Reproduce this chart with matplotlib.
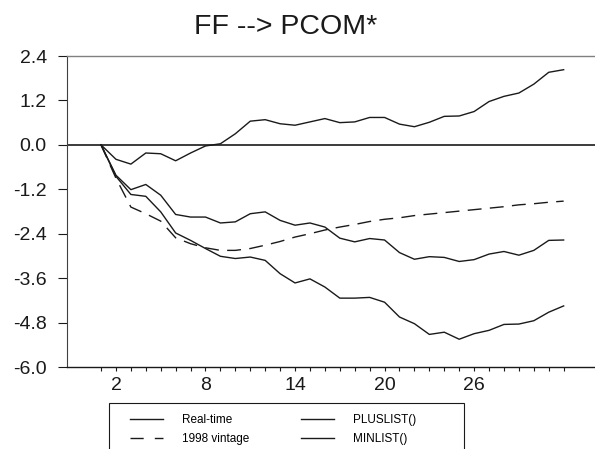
import matplotlib
matplotlib.use("Agg")
import matplotlib.pyplot as plt
from matplotlib.lines import Line2D
from matplotlib.patches import Rectangle

plt.rcParams['font.family'] = ['Liberation Sans', 'DejaVu Sans']

# Horizon (periods) and impulse responses
horizon = list(range(1, 33))

real_time = [0.00, -0.82, -1.21, -1.07, -1.36, -1.88, -1.95, -1.95, -2.11, -2.08,
             -1.86, -1.81, -2.04, -2.17, -2.11, -2.22, -2.52, -2.62, -2.53, -2.57,
             -2.91, -3.09, -3.02, -3.04, -3.15, -3.10, -2.95, -2.88, -2.98, -2.85,
             -2.58, -2.57]

vintage_1998 = [0.00, -0.90, -1.68, -1.86, -2.06, -2.51, -2.67, -2.78, -2.85, -2.85,
                -2.80, -2.71, -2.61, -2.49, -2.40, -2.30, -2.22, -2.15, -2.07, -2.01,
                -1.97, -1.91, -1.87, -1.83, -1.79, -1.75, -1.71, -1.67, -1.62, -1.59,
                -1.55, -1.52]

plus_list = [0.00, -0.39, -0.52, -0.22, -0.24, -0.43, -0.22, -0.03, 0.03, 0.30,
             0.64, 0.68, 0.57, 0.53, 0.62, 0.71, 0.60, 0.62, 0.74, 0.74,
             0.56, 0.49, 0.61, 0.77, 0.78, 0.90, 1.17, 1.31, 1.40, 1.64,
             1.96, 2.03]

min_list = [0.00, -0.85, -1.34, -1.39, -1.81, -2.38, -2.58, -2.80, -3.01, -3.07,
            -3.03, -3.12, -3.48, -3.73, -3.62, -3.84, -4.14, -4.14, -4.12, -4.25,
            -4.65, -4.83, -5.12, -5.06, -5.25, -5.10, -5.01, -4.85, -4.84, -4.75,
            -4.52, -4.35]

y_ticks = [2.4, 1.2, 0.0, -1.2, -2.4, -3.6, -4.8, -6.0]
x_labeled = [2, 8, 14, 20, 26]

ink = '#1a1a1a'
W, H = 595, 449

fig = plt.figure(figsize=(W / 100, H / 100), dpi=100)
ax = fig.add_axes([67 / W, 1 - 367 / H, 1 - 67 / W, (367 - 56) / H])

ax.plot(horizon, real_time, color=ink, lw=1.0)
ax.plot(horizon, vintage_1998, color=ink, lw=1.0, dashes=(10, 6))
ax.plot(horizon, plus_list, color=ink, lw=1.0)
ax.plot(horizon, min_list, color=ink, lw=1.0)
ax.axhline(0.0, color=ink, lw=1.2)

ax.set_xlim(-1.28, 34.1)
ax.set_ylim(-6.0, 2.4)

ax.set_yticks(y_ticks)
ax.set_yticklabels([f"{v:.1f}" for v in y_ticks])
ax.set_xticks(horizon)
ax.set_xticklabels([str(h) if h in x_labeled else "" for h in horizon])

ax.tick_params(axis='y', direction='out', length=6.5, width=0.8, pad=8,
               labelsize=14, colors=ink)
ax.tick_params(axis='x', direction='out', length=3, width=0.8, pad=4,
               labelsize=14, colors=ink)

ax.spines['right'].set_visible(False)
ax.spines['top'].set_color('#808080')
ax.spines['top'].set_linewidth(1.0)
ax.spines['left'].set_color('#404040')
ax.spines['left'].set_linewidth(0.8)
ax.spines['bottom'].set_color(ink)
ax.spines['bottom'].set_linewidth(1.0)

fig.text(286 / W, 1 - 34 / H, "FF --> PCOM*", ha='center', va='baseline',
         fontsize=20.5, color=ink)

# Legend box below the axis, running off the bottom edge
fig.patches.append(Rectangle((109 / W, -0.05), (464 - 109) / W, 0.05 + 1 - 403 / H,
                             transform=fig.transFigure, fill=False,
                             edgecolor=ink, lw=0.8))

handles = [Line2D([], [], color=ink, lw=1.0),
           Line2D([], [], color=ink, lw=1.0, dashes=(9.5, 8)),
           Line2D([], [], color=ink, lw=1.0),
           Line2D([], [], color=ink, lw=1.0)]
labels = ["Real-time", "1998 vintage", "PLUSLIST()", "MINLIST()"]
fig.legend(handles, labels, ncol=2, loc='upper left',
           bbox_to_anchor=(130 / W, 1 - 414 / H),
           fontsize=8.5, frameon=False,
           handlelength=2.8, handletextpad=1.6, columnspacing=4.4,
           borderpad=0, labelspacing=0.62, borderaxespad=0)

fig.savefig("out.png", dpi=100)
